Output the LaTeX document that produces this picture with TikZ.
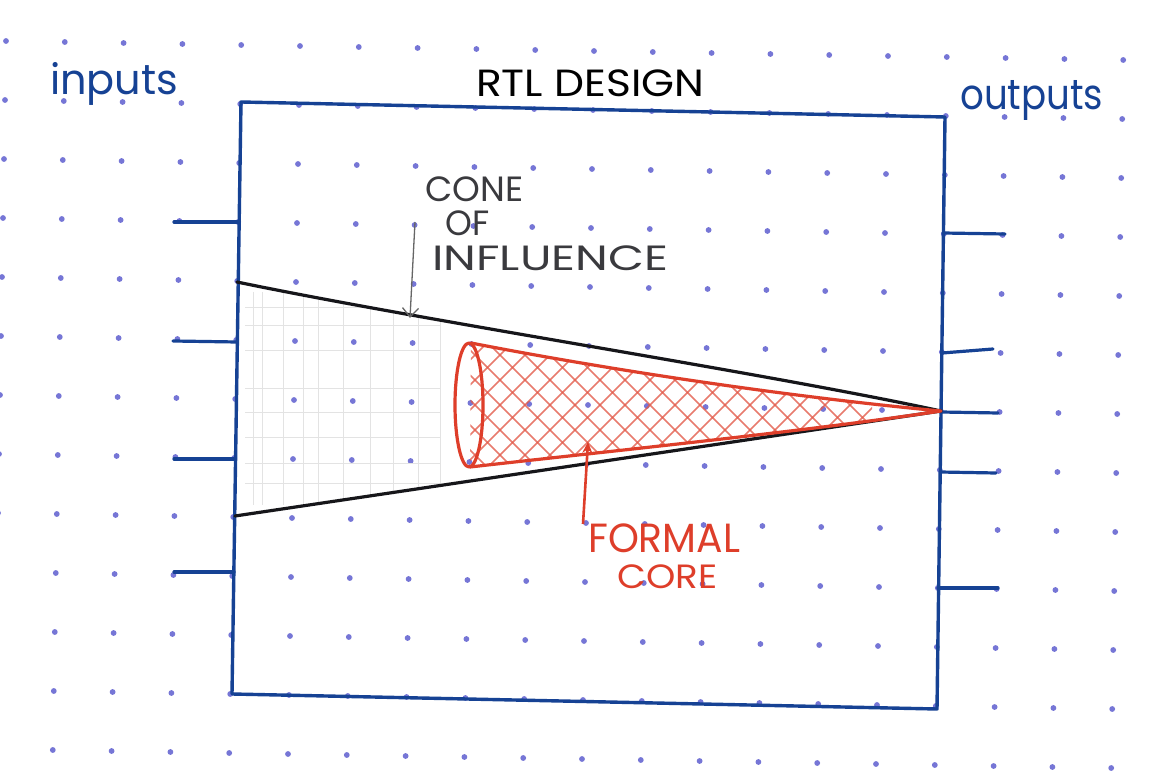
\documentclass[tikz,border=0pt]{standalone}
\usepackage{fontspec}
\usepackage{graphicx}
\usetikzlibrary{arrows.meta}
\newfontfamily\hand{Poppins}
\definecolor{dotc}{RGB}{118,118,214}
\definecolor{inkblue}{RGB}{22,66,148}
\definecolor{inkred}{RGB}{222,62,42}
\definecolor{inkblack}{RGB}{22,22,26}
\definecolor{pencil}{RGB}{58,58,62}
\begin{document}
\begin{tikzpicture}[x=1pt,y=-1pt,
  dot/.style={fill=dotc,draw=none},
  boxline/.style={draw=inkblue,line width=3.4pt,line join=round,line cap=round},
  tickline/.style={draw=inkblue,line width=3.2pt,line cap=round},
  conel/.style={draw=inkblack,line width=3.2pt,line cap=round},
  redl/.style={draw=inkred,line width=3.2pt,line cap=round,line join=round},
  hatch/.style={draw=inkred!85,line width=1.6pt,opacity=0.8},
  pgrid/.style={draw=black!11,line width=0.5pt},
  lbl/.style={inner sep=0pt,anchor=north west}]
\useasboundingbox[fill=white] (0,0) rectangle (1149,775);
% dot grid paper
\foreach \i in {0,...,19}{\foreach \j in {0,...,12}{
  \fill[dot] ({6+58.8*\i-1.0*\j},{41+59*\j+1.0*\i}) circle[radius=2.9pt];}}
% faint pencil grid inside the cone
\begin{scope}
  \clip (237,282) .. controls (430,322) and (760,372) .. (941,411) -- (235,516) -- cycle;
  \foreach \gx in {253,262,283,303,318,343,370,393,418,440}{\draw[pgrid] (\gx,292) -- (\gx,505);}
  \foreach \gy in {307,325,350,388,412,437,463,483}{\draw[pgrid] (245,\gy) -- (440,\gy);}
\end{scope}
% design box
\draw[boxline] (241,102) -- (945,117) -- (937,709) -- (232,694) -- cycle;
% input ticks
\draw[tickline] (174,222) -- (239,222);
\draw[tickline] (173,341) -- (237,342);
\draw[tickline] (174,459) -- (235,459);
\draw[tickline] (174,572) -- (234,572);
% output ticks
\draw[tickline] (943,233) -- (1005,234);
\draw[tickline] (942,353) -- (993,349);
\draw[tickline] (941,412) -- (998,413);
\draw[tickline] (940,472) -- (996,473);
\draw[tickline] (938,588) -- (998,588);
% red formal core hatch
\begin{scope}
  \clip (471,343) .. controls (620,372) and (800,398) .. (941,411) .. controls (800,432) and (620,450) .. (470,467) -- cycle;
  \clip (466,300) rectangle (872,500);
  \foreach \a in {300,325,...,900}{
    \draw[hatch] (\a,330) -- (\a+150,480);
    \draw[hatch] (\a,480) -- (\a+150,330);}
\end{scope}
% outer cone of influence
\draw[conel] (237,282) .. controls (430,322) and (760,372) .. (941,411);
\draw[conel] (235,516) -- (941,411);
% formal core outline
\draw[redl] (471,343) .. controls (620,372) and (800,398) .. (941,411) .. controls (800,432) and (620,450) .. (470,467);
\draw[redl] (469,405) ellipse[x radius=14pt, y radius=62pt];
% labels
\node[lbl] (title) at (476,70) {\resizebox*{228pt}{27pt}{\hand RTL DESIGN}};
\node[lbl,text=inkblue] (inputs) at (50,62) {\resizebox*{128pt}{43pt}{\hand inputs}};
\node[lbl,text=inkblue] (outputs) at (960,80) {\resizebox*{143pt}{40pt}{\hand outputs}};
\node[lbl,text=pencil] (cone1) at (425,177) {\resizebox*{98pt}{25pt}{\hand CONE}};
\node[lbl,text=pencil] (cone2) at (445,211) {\resizebox*{44pt}{25pt}{\hand OF}};
\node[lbl,text=pencil] (cone3) at (432,246) {\resizebox*{236pt}{25pt}{\hand INFLUENCE}};
\node[lbl,text=inkred] (formal) at (588,524) {\resizebox*{152pt}{29pt}{\hand FORMAL}};
\node[lbl,text=inkred] (core) at (617,565) {\resizebox*{100pt}{24pt}{\hand CORE}};
% arrows
\coordinate (coiStart) at (415,222);
\coordinate (coiEnd) at (410,318);
\draw[draw=black!60,line width=1.3pt,-{Straight Barb[length=9pt,width=16pt]}] (coiStart) -- (coiEnd);
\coordinate (fcStart) at (583,524);
\coordinate (fcEnd) at (588,442);
\draw[draw=inkred,line width=2.6pt,-{Stealth[length=11pt,width=10pt]}] (fcStart) -- (fcEnd);
\end{tikzpicture}
\end{document}
